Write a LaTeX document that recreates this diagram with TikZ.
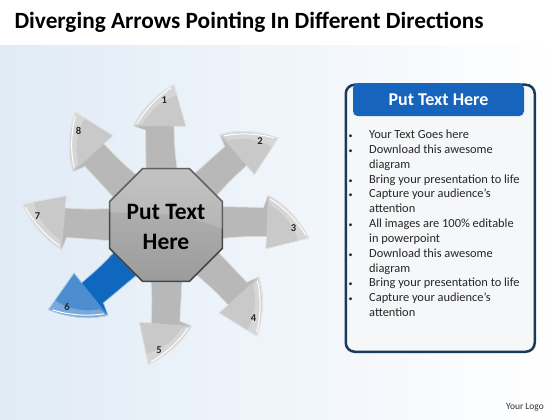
\documentclass[tikz,border=0pt]{standalone}
\usepackage{fontspec}
\setmainfont{Carlito}
\usetikzlibrary{shapes.geometric,positioning}

\definecolor{bgblue}{RGB}{224,235,246}
\definecolor{framenavy}{RGB}{27,58,90}
\definecolor{headblue}{RGB}{22,100,188}
\definecolor{headlight}{RGB}{70,170,240}
\definecolor{arrowblue}{RGB}{16,104,190}
\definecolor{panelfill}{RGB}{246,247,249}

% one ray, pointing along +x, tip bent to the clockwise side
\newcommand{\raypath}{(42,-16) .. controls (75,-14) .. (99,-15) -- (98,-27) -- (141,-18) .. controls (134,-2) and (120,16) .. (102,26) -- (97,14) .. controls (70,16) .. (42,17) -- cycle}
\newcommand{\rayhead}{(98,-27) -- (141,-18) .. controls (134,-2) and (120,16) .. (102,26) -- cycle}
\newcommand{\rayshine}{(141,-18) .. controls (134,-2) and (120,16) .. (102,26) -- (104,16) .. controls (117,8) and (127,-6) .. (130,-20) -- cycle}
\newcommand{\rayrim}{(138,-15) .. controls (131,-2) and (118,13) .. (104,22)}

\tikzset{
  ray/.style={fill=gray!56, draw=white!75!gray, line width=0.7pt},
  rayhot/.style={fill=arrowblue, draw=white!60!arrowblue, line width=0.7pt},
  rayglow/.style={fill=white, opacity=0.25},
  raynum/.style={font=\bfseries\fontsize{10.5}{10.5}\selectfont, text=black!85, inner sep=1pt},
}

\begin{document}
\begin{tikzpicture}[x=1pt,y=-1pt]
  \useasboundingbox (0,0) rectangle (560,420);
  % background and title band
  \fill[left color=bgblue, right color=white] (0,0) rectangle (560,420);
  \fill[white] (0,0) rectangle (560,45);
  \node[anchor=west, font=\bfseries\fontsize{23.3}{23.3}\selectfont, text=black] (title) at (11,22) {Diverging Arrows Pointing In Different Directions};

  % the eight rays
  \foreach \n/\a/\s in {1/94/0.99,2/45/1,3/2/1.01,4/-43.5/1.01,5/-90/0.99,7/179/1.02,8/136/1.02}{
    \begin{scope}[shift={(166,225)}, rotate=\a, x=\s pt, y=\s pt]
      \draw[ray] \raypath;
      \fill[rayglow] \rayhead;
      \fill[rayglow] \rayshine;
      \draw[white, line width=1pt] \rayrim;
      \node[raynum] (num\n) at (126,-7) {\n};
    \end{scope}
  }
  \begin{scope}[shift={(166,225)}, rotate=-137, x=1.02pt, y=1.02pt]
    \draw[rayhot] \raypath;
    \fill[rayglow] \rayhead;
    \fill[rayglow] \rayshine;
    \draw[white, line width=1pt] \rayrim;
    \node[raynum] (num6) at (126,-7) {6};
  \end{scope}

  % hub
  \node[regular polygon, regular polygon sides=8, minimum size=122, inner sep=0pt,
        top color=gray!55, bottom color=gray!78, draw=gray!55!black, line width=1.5pt] (hub) at (166,225) {};
  \begin{scope}
    \clip (hub.corner 1) -- (hub.corner 2) -- (hub.corner 3) -- (hub.corner 4) -- (hub.corner 5)
      -- (hub.corner 6) -- (hub.corner 7) -- (hub.corner 8) -- cycle;
    \fill[white, opacity=0.15] (100,160) -- (232,160) -- (232,232) .. controls (180,214) .. (100,212) -- cycle;
  \end{scope}
  \node[align=center, font=\bfseries\fontsize{23.5}{30}\selectfont] (hubtext) at (166,227) {Put Text\\Here};

  % text panel
  \node[draw=framenavy, line width=2.5pt, rounded corners=9pt, fill=panelfill,
        minimum width=189, minimum height=267, anchor=north west] (panel) at (344.5,83.5) {};
  \node[rounded corners=5pt, minimum width=171, minimum height=33, anchor=north,
        left color=headblue, middle color=headlight, right color=headblue] (head) at (438.5,83) {};
  \node[font=\bfseries\fontsize{18}{18}\selectfont, text=white] (headtext) at (head) {Put Text Here};
  \node[anchor=north west, inner sep=0pt, text=black!85, font=\fontsize{12.4}{14.83}\selectfont] (items) at (348.5,128) {%
    \begin{tabular}{@{}p{20.5pt}@{}l@{}}
      {\fontsize{8}{8}\selectfont\textbullet} & Your Text Goes here\\
      {\fontsize{8}{8}\selectfont\textbullet} & Download this awesome\\
                  & diagram\\
      {\fontsize{8}{8}\selectfont\textbullet} & Bring your presentation to life\\
      {\fontsize{8}{8}\selectfont\textbullet} & Capture your audience’s\\
                  & attention\\
      {\fontsize{8}{8}\selectfont\textbullet} & All images are 100\% editable\\
                  & in powerpoint\\
      {\fontsize{8}{8}\selectfont\textbullet} & Download this awesome\\
                  & diagram\\
      {\fontsize{8}{8}\selectfont\textbullet} & Bring your presentation to life\\
      {\fontsize{8}{8}\selectfont\textbullet} & Capture your audience’s\\
                  & attention
    \end{tabular}};

  \node[font=\fontsize{9.5}{9.5}\selectfont, text=black!80] (logo) at (525,407) {Your Logo};
\end{tikzpicture}
\end{document}
